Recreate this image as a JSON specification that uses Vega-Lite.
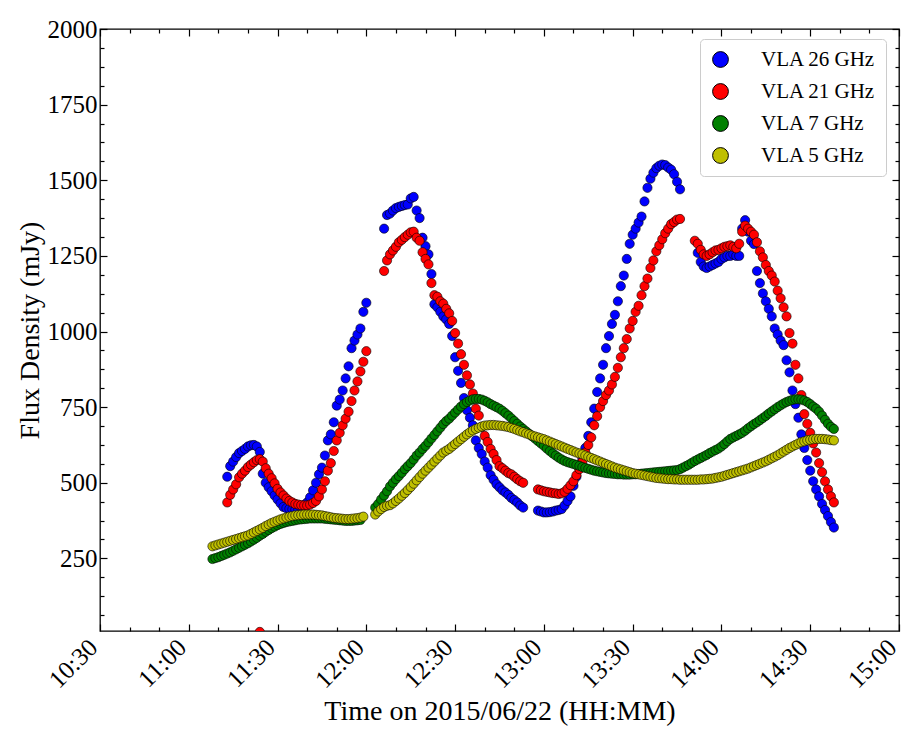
{
"$schema":"https://vega.github.io/schema/vega-lite/v6.json",
"width":799,"height":602,
"autosize":{"type":"none"},
"padding":{"left":100,"top":29,"right":3,"bottom":105},
"background":"white",
"config":{
 "view":{"stroke":"black","strokeWidth":1.3},
 "axis":{"grid":false,"domain":false,"tickColor":"black","tickWidth":1.2,"labelColor":"black","titleColor":"black","labelFont":"Liberation Serif","titleFont":"Liberation Serif","titleFontWeight":"normal","labelFlush":false,"labelOverlap":false}
},
"data":{"format":{"parse":{"t":"date:'%H:%M'"}},"values":[
{"s":"VLA 26 GHz","t":"11:13","v":520},{"s":"VLA 26 GHz","t":"11:14","v":555},{"s":"VLA 26 GHz","t":"11:15","v":570},{"s":"VLA 26 GHz","t":"11:16","v":585},{"s":"VLA 26 GHz","t":"11:17","v":598},{"s":"VLA 26 GHz","t":"11:18","v":605},{"s":"VLA 26 GHz","t":"11:19","v":612},{"s":"VLA 26 GHz","t":"11:20","v":620},{"s":"VLA 26 GHz","t":"11:21","v":624},{"s":"VLA 26 GHz","t":"11:22","v":625},{"s":"VLA 26 GHz","t":"11:23","v":620},{"s":"VLA 26 GHz","t":"11:24","v":602},{"s":"VLA 26 GHz","t":"11:25","v":530},{"s":"VLA 26 GHz","t":"11:26","v":500},{"s":"VLA 26 GHz","t":"11:27","v":485},{"s":"VLA 26 GHz","t":"11:28","v":472},{"s":"VLA 26 GHz","t":"11:29","v":458},{"s":"VLA 26 GHz","t":"11:30","v":445},{"s":"VLA 26 GHz","t":"11:31","v":432},{"s":"VLA 26 GHz","t":"11:32","v":420},{"s":"VLA 26 GHz","t":"11:33","v":416},{"s":"VLA 26 GHz","t":"11:34","v":414},{"s":"VLA 26 GHz","t":"11:35","v":412},{"s":"VLA 26 GHz","t":"11:36","v":411},{"s":"VLA 26 GHz","t":"11:37","v":412},{"s":"VLA 26 GHz","t":"11:38","v":418},{"s":"VLA 26 GHz","t":"11:39","v":426},{"s":"VLA 26 GHz","t":"11:40","v":435},{"s":"VLA 26 GHz","t":"11:41","v":452},{"s":"VLA 26 GHz","t":"11:42","v":475},{"s":"VLA 26 GHz","t":"11:43","v":500},{"s":"VLA 26 GHz","t":"11:44","v":528},{"s":"VLA 26 GHz","t":"11:45","v":550},{"s":"VLA 26 GHz","t":"11:46","v":590},{"s":"VLA 26 GHz","t":"11:47","v":640},{"s":"VLA 26 GHz","t":"11:48","v":660},{"s":"VLA 26 GHz","t":"11:49","v":700},{"s":"VLA 26 GHz","t":"11:50","v":755},{"s":"VLA 26 GHz","t":"11:51","v":775},{"s":"VLA 26 GHz","t":"11:52","v":805},{"s":"VLA 26 GHz","t":"11:53","v":845},{"s":"VLA 26 GHz","t":"11:54","v":885},{"s":"VLA 26 GHz","t":"11:55","v":945},{"s":"VLA 26 GHz","t":"11:56","v":970},{"s":"VLA 26 GHz","t":"11:57","v":990},{"s":"VLA 26 GHz","t":"11:58","v":1010},{"s":"VLA 26 GHz","t":"11:59","v":1065},{"s":"VLA 26 GHz","t":"12:00","v":1095},
{"s":"VLA 26 GHz","t":"12:06","v":1340},{"s":"VLA 26 GHz","t":"12:07","v":1385},{"s":"VLA 26 GHz","t":"12:08","v":1390},{"s":"VLA 26 GHz","t":"12:09","v":1400},{"s":"VLA 26 GHz","t":"12:10","v":1408},{"s":"VLA 26 GHz","t":"12:11","v":1412},{"s":"VLA 26 GHz","t":"12:12","v":1415},{"s":"VLA 26 GHz","t":"12:13","v":1418},{"s":"VLA 26 GHz","t":"12:14","v":1420},{"s":"VLA 26 GHz","t":"12:15","v":1440},{"s":"VLA 26 GHz","t":"12:16","v":1445},{"s":"VLA 26 GHz","t":"12:17","v":1400},{"s":"VLA 26 GHz","t":"12:18","v":1375},{"s":"VLA 26 GHz","t":"12:19","v":1310},{"s":"VLA 26 GHz","t":"12:20","v":1282},{"s":"VLA 26 GHz","t":"12:21","v":1255},{"s":"VLA 26 GHz","t":"12:22","v":1190},{"s":"VLA 26 GHz","t":"12:23","v":1090},{"s":"VLA 26 GHz","t":"12:24","v":1080},{"s":"VLA 26 GHz","t":"12:25","v":1065},{"s":"VLA 26 GHz","t":"12:26","v":1050},{"s":"VLA 26 GHz","t":"12:27","v":1040},{"s":"VLA 26 GHz","t":"12:28","v":1025},{"s":"VLA 26 GHz","t":"12:29","v":985},{"s":"VLA 26 GHz","t":"12:30","v":915},{"s":"VLA 26 GHz","t":"12:31","v":870},{"s":"VLA 26 GHz","t":"12:32","v":830},{"s":"VLA 26 GHz","t":"12:33","v":780},{"s":"VLA 26 GHz","t":"12:34","v":740},{"s":"VLA 26 GHz","t":"12:35","v":715},{"s":"VLA 26 GHz","t":"12:36","v":690},{"s":"VLA 26 GHz","t":"12:37","v":640},{"s":"VLA 26 GHz","t":"12:38","v":615},{"s":"VLA 26 GHz","t":"12:39","v":595},{"s":"VLA 26 GHz","t":"12:40","v":570},{"s":"VLA 26 GHz","t":"12:41","v":550},{"s":"VLA 26 GHz","t":"12:42","v":525},{"s":"VLA 26 GHz","t":"12:43","v":510},{"s":"VLA 26 GHz","t":"12:44","v":495},{"s":"VLA 26 GHz","t":"12:45","v":485},{"s":"VLA 26 GHz","t":"12:46","v":475},{"s":"VLA 26 GHz","t":"12:47","v":468},{"s":"VLA 26 GHz","t":"12:48","v":460},{"s":"VLA 26 GHz","t":"12:49","v":450},{"s":"VLA 26 GHz","t":"12:50","v":443},{"s":"VLA 26 GHz","t":"12:51","v":435},{"s":"VLA 26 GHz","t":"12:52","v":425},{"s":"VLA 26 GHz","t":"12:53","v":418},
{"s":"VLA 26 GHz","t":"12:58","v":408},{"s":"VLA 26 GHz","t":"12:59","v":405},{"s":"VLA 26 GHz","t":"13:00","v":402},{"s":"VLA 26 GHz","t":"13:01","v":402},{"s":"VLA 26 GHz","t":"13:02","v":403},{"s":"VLA 26 GHz","t":"13:03","v":405},{"s":"VLA 26 GHz","t":"13:04","v":408},{"s":"VLA 26 GHz","t":"13:05","v":410},{"s":"VLA 26 GHz","t":"13:06","v":413},{"s":"VLA 26 GHz","t":"13:07","v":425},{"s":"VLA 26 GHz","t":"13:08","v":440},{"s":"VLA 26 GHz","t":"13:09","v":455},{"s":"VLA 26 GHz","t":"13:10","v":490},{"s":"VLA 26 GHz","t":"13:11","v":520},{"s":"VLA 26 GHz","t":"13:12","v":548},{"s":"VLA 26 GHz","t":"13:13","v":580},{"s":"VLA 26 GHz","t":"13:14","v":615},{"s":"VLA 26 GHz","t":"13:15","v":655},{"s":"VLA 26 GHz","t":"13:16","v":700},{"s":"VLA 26 GHz","t":"13:17","v":745},{"s":"VLA 26 GHz","t":"13:18","v":800},{"s":"VLA 26 GHz","t":"13:19","v":845},{"s":"VLA 26 GHz","t":"13:20","v":890},{"s":"VLA 26 GHz","t":"13:21","v":945},{"s":"VLA 26 GHz","t":"13:22","v":985},{"s":"VLA 26 GHz","t":"13:23","v":1025},{"s":"VLA 26 GHz","t":"13:24","v":1055},{"s":"VLA 26 GHz","t":"13:25","v":1100},{"s":"VLA 26 GHz","t":"13:26","v":1150},{"s":"VLA 26 GHz","t":"13:27","v":1185},{"s":"VLA 26 GHz","t":"13:28","v":1240},{"s":"VLA 26 GHz","t":"13:29","v":1290},{"s":"VLA 26 GHz","t":"13:30","v":1320},{"s":"VLA 26 GHz","t":"13:31","v":1340},{"s":"VLA 26 GHz","t":"13:32","v":1360},{"s":"VLA 26 GHz","t":"13:33","v":1380},{"s":"VLA 26 GHz","t":"13:34","v":1430},{"s":"VLA 26 GHz","t":"13:35","v":1475},{"s":"VLA 26 GHz","t":"13:36","v":1505},{"s":"VLA 26 GHz","t":"13:37","v":1525},{"s":"VLA 26 GHz","t":"13:38","v":1540},{"s":"VLA 26 GHz","t":"13:39","v":1548},{"s":"VLA 26 GHz","t":"13:40","v":1552},{"s":"VLA 26 GHz","t":"13:41","v":1550},{"s":"VLA 26 GHz","t":"13:42","v":1542},{"s":"VLA 26 GHz","t":"13:43","v":1535},{"s":"VLA 26 GHz","t":"13:44","v":1520},{"s":"VLA 26 GHz","t":"13:45","v":1495},{"s":"VLA 26 GHz","t":"13:46","v":1470},
{"s":"VLA 26 GHz","t":"13:52","v":1260},{"s":"VLA 26 GHz","t":"13:53","v":1230},{"s":"VLA 26 GHz","t":"13:54","v":1215},{"s":"VLA 26 GHz","t":"13:55","v":1210},{"s":"VLA 26 GHz","t":"13:56","v":1215},{"s":"VLA 26 GHz","t":"13:57","v":1220},{"s":"VLA 26 GHz","t":"13:58","v":1225},{"s":"VLA 26 GHz","t":"13:59","v":1230},{"s":"VLA 26 GHz","t":"14:00","v":1240},{"s":"VLA 26 GHz","t":"14:01","v":1245},{"s":"VLA 26 GHz","t":"14:02","v":1250},{"s":"VLA 26 GHz","t":"14:03","v":1250},{"s":"VLA 26 GHz","t":"14:04","v":1255},{"s":"VLA 26 GHz","t":"14:05","v":1250},{"s":"VLA 26 GHz","t":"14:06","v":1250},{"s":"VLA 26 GHz","t":"14:07","v":1340},{"s":"VLA 26 GHz","t":"14:08","v":1368},{"s":"VLA 26 GHz","t":"14:09","v":1330},{"s":"VLA 26 GHz","t":"14:10","v":1300},{"s":"VLA 26 GHz","t":"14:11","v":1289},{"s":"VLA 26 GHz","t":"14:12","v":1200},{"s":"VLA 26 GHz","t":"14:13","v":1160},{"s":"VLA 26 GHz","t":"14:14","v":1126},{"s":"VLA 26 GHz","t":"14:15","v":1100},{"s":"VLA 26 GHz","t":"14:16","v":1075},{"s":"VLA 26 GHz","t":"14:17","v":1050},{"s":"VLA 26 GHz","t":"14:18","v":1010},{"s":"VLA 26 GHz","t":"14:19","v":990},{"s":"VLA 26 GHz","t":"14:20","v":970},{"s":"VLA 26 GHz","t":"14:21","v":955},{"s":"VLA 26 GHz","t":"14:22","v":905},{"s":"VLA 26 GHz","t":"14:23","v":865},{"s":"VLA 26 GHz","t":"14:24","v":805},{"s":"VLA 26 GHz","t":"14:25","v":760},{"s":"VLA 26 GHz","t":"14:26","v":715},{"s":"VLA 26 GHz","t":"14:27","v":660},{"s":"VLA 26 GHz","t":"14:28","v":615},{"s":"VLA 26 GHz","t":"14:29","v":575},{"s":"VLA 26 GHz","t":"14:30","v":540},{"s":"VLA 26 GHz","t":"14:31","v":505},{"s":"VLA 26 GHz","t":"14:32","v":478},{"s":"VLA 26 GHz","t":"14:33","v":455},{"s":"VLA 26 GHz","t":"14:34","v":430},{"s":"VLA 26 GHz","t":"14:35","v":410},{"s":"VLA 26 GHz","t":"14:36","v":390},{"s":"VLA 26 GHz","t":"14:37","v":370},{"s":"VLA 26 GHz","t":"14:38","v":352},
{"s":"VLA 21 GHz","t":"11:13","v":435},{"s":"VLA 21 GHz","t":"11:14","v":460},{"s":"VLA 21 GHz","t":"11:15","v":478},{"s":"VLA 21 GHz","t":"11:16","v":495},{"s":"VLA 21 GHz","t":"11:17","v":518},{"s":"VLA 21 GHz","t":"11:18","v":530},{"s":"VLA 21 GHz","t":"11:19","v":540},{"s":"VLA 21 GHz","t":"11:20","v":552},{"s":"VLA 21 GHz","t":"11:21","v":560},{"s":"VLA 21 GHz","t":"11:22","v":568},{"s":"VLA 21 GHz","t":"11:23","v":575},{"s":"VLA 21 GHz","t":"11:24","v":578},{"s":"VLA 21 GHz","t":"11:25","v":570},{"s":"VLA 21 GHz","t":"11:26","v":548},{"s":"VLA 21 GHz","t":"11:27","v":530},{"s":"VLA 21 GHz","t":"11:28","v":515},{"s":"VLA 21 GHz","t":"11:29","v":498},{"s":"VLA 21 GHz","t":"11:30","v":480},{"s":"VLA 21 GHz","t":"11:31","v":468},{"s":"VLA 21 GHz","t":"11:32","v":458},{"s":"VLA 21 GHz","t":"11:33","v":448},{"s":"VLA 21 GHz","t":"11:34","v":440},{"s":"VLA 21 GHz","t":"11:35","v":435},{"s":"VLA 21 GHz","t":"11:36","v":430},{"s":"VLA 21 GHz","t":"11:37","v":428},{"s":"VLA 21 GHz","t":"11:38","v":426},{"s":"VLA 21 GHz","t":"11:39","v":425},{"s":"VLA 21 GHz","t":"11:40","v":425},{"s":"VLA 21 GHz","t":"11:41","v":428},{"s":"VLA 21 GHz","t":"11:42","v":433},{"s":"VLA 21 GHz","t":"11:43","v":440},{"s":"VLA 21 GHz","t":"11:44","v":455},{"s":"VLA 21 GHz","t":"11:45","v":478},{"s":"VLA 21 GHz","t":"11:46","v":505},{"s":"VLA 21 GHz","t":"11:47","v":540},{"s":"VLA 21 GHz","t":"11:48","v":565},{"s":"VLA 21 GHz","t":"11:49","v":605},{"s":"VLA 21 GHz","t":"11:50","v":640},{"s":"VLA 21 GHz","t":"11:51","v":665},{"s":"VLA 21 GHz","t":"11:52","v":690},{"s":"VLA 21 GHz","t":"11:53","v":712},{"s":"VLA 21 GHz","t":"11:54","v":735},{"s":"VLA 21 GHz","t":"11:55","v":770},{"s":"VLA 21 GHz","t":"11:56","v":805},{"s":"VLA 21 GHz","t":"11:57","v":835},{"s":"VLA 21 GHz","t":"11:58","v":868},{"s":"VLA 21 GHz","t":"11:59","v":900},{"s":"VLA 21 GHz","t":"12:00","v":935},
{"s":"VLA 21 GHz","t":"11:24","v":7},
{"s":"VLA 21 GHz","t":"12:06","v":1200},{"s":"VLA 21 GHz","t":"12:07","v":1235},{"s":"VLA 21 GHz","t":"12:08","v":1255},{"s":"VLA 21 GHz","t":"12:09","v":1268},{"s":"VLA 21 GHz","t":"12:10","v":1280},{"s":"VLA 21 GHz","t":"12:11","v":1295},{"s":"VLA 21 GHz","t":"12:12","v":1303},{"s":"VLA 21 GHz","t":"12:13","v":1312},{"s":"VLA 21 GHz","t":"12:14","v":1320},{"s":"VLA 21 GHz","t":"12:15","v":1328},{"s":"VLA 21 GHz","t":"12:16","v":1330},{"s":"VLA 21 GHz","t":"12:17","v":1310},{"s":"VLA 21 GHz","t":"12:18","v":1300},{"s":"VLA 21 GHz","t":"12:19","v":1262},{"s":"VLA 21 GHz","t":"12:20","v":1240},{"s":"VLA 21 GHz","t":"12:21","v":1222},{"s":"VLA 21 GHz","t":"12:22","v":1160},{"s":"VLA 21 GHz","t":"12:23","v":1120},{"s":"VLA 21 GHz","t":"12:24","v":1115},{"s":"VLA 21 GHz","t":"12:25","v":1100},{"s":"VLA 21 GHz","t":"12:26","v":1092},{"s":"VLA 21 GHz","t":"12:27","v":1075},{"s":"VLA 21 GHz","t":"12:28","v":1060},{"s":"VLA 21 GHz","t":"12:29","v":1035},{"s":"VLA 21 GHz","t":"12:30","v":995},{"s":"VLA 21 GHz","t":"12:31","v":960},{"s":"VLA 21 GHz","t":"12:32","v":925},{"s":"VLA 21 GHz","t":"12:33","v":890},{"s":"VLA 21 GHz","t":"12:34","v":855},{"s":"VLA 21 GHz","t":"12:35","v":825},{"s":"VLA 21 GHz","t":"12:36","v":795},{"s":"VLA 21 GHz","t":"12:37","v":745},{"s":"VLA 21 GHz","t":"12:38","v":722},{"s":"VLA 21 GHz","t":"12:39","v":685},{"s":"VLA 21 GHz","t":"12:40","v":655},{"s":"VLA 21 GHz","t":"12:41","v":635},{"s":"VLA 21 GHz","t":"12:42","v":612},{"s":"VLA 21 GHz","t":"12:43","v":595},{"s":"VLA 21 GHz","t":"12:44","v":575},{"s":"VLA 21 GHz","t":"12:45","v":555},{"s":"VLA 21 GHz","t":"12:46","v":548},{"s":"VLA 21 GHz","t":"12:47","v":540},{"s":"VLA 21 GHz","t":"12:48","v":532},{"s":"VLA 21 GHz","t":"12:49","v":528},{"s":"VLA 21 GHz","t":"12:50","v":520},{"s":"VLA 21 GHz","t":"12:51","v":512},{"s":"VLA 21 GHz","t":"12:52","v":505},{"s":"VLA 21 GHz","t":"12:53","v":500},
{"s":"VLA 21 GHz","t":"12:58","v":478},{"s":"VLA 21 GHz","t":"12:59","v":475},{"s":"VLA 21 GHz","t":"13:00","v":472},{"s":"VLA 21 GHz","t":"13:01","v":470},{"s":"VLA 21 GHz","t":"13:02","v":468},{"s":"VLA 21 GHz","t":"13:03","v":466},{"s":"VLA 21 GHz","t":"13:04","v":465},{"s":"VLA 21 GHz","t":"13:05","v":463},{"s":"VLA 21 GHz","t":"13:06","v":465},{"s":"VLA 21 GHz","t":"13:07","v":470},{"s":"VLA 21 GHz","t":"13:08","v":480},{"s":"VLA 21 GHz","t":"13:09","v":492},{"s":"VLA 21 GHz","t":"13:10","v":505},{"s":"VLA 21 GHz","t":"13:11","v":525},{"s":"VLA 21 GHz","t":"13:12","v":545},{"s":"VLA 21 GHz","t":"13:13","v":570},{"s":"VLA 21 GHz","t":"13:14","v":600},{"s":"VLA 21 GHz","t":"13:15","v":625},{"s":"VLA 21 GHz","t":"13:16","v":650},{"s":"VLA 21 GHz","t":"13:17","v":690},{"s":"VLA 21 GHz","t":"13:18","v":720},{"s":"VLA 21 GHz","t":"13:19","v":750},{"s":"VLA 21 GHz","t":"13:20","v":770},{"s":"VLA 21 GHz","t":"13:21","v":790},{"s":"VLA 21 GHz","t":"13:22","v":805},{"s":"VLA 21 GHz","t":"13:23","v":825},{"s":"VLA 21 GHz","t":"13:24","v":850},{"s":"VLA 21 GHz","t":"13:25","v":880},{"s":"VLA 21 GHz","t":"13:26","v":915},{"s":"VLA 21 GHz","t":"13:27","v":945},{"s":"VLA 21 GHz","t":"13:28","v":975},{"s":"VLA 21 GHz","t":"13:29","v":1010},{"s":"VLA 21 GHz","t":"13:30","v":1035},{"s":"VLA 21 GHz","t":"13:31","v":1065},{"s":"VLA 21 GHz","t":"13:32","v":1085},{"s":"VLA 21 GHz","t":"13:33","v":1120},{"s":"VLA 21 GHz","t":"13:34","v":1150},{"s":"VLA 21 GHz","t":"13:35","v":1175},{"s":"VLA 21 GHz","t":"13:36","v":1210},{"s":"VLA 21 GHz","t":"13:37","v":1235},{"s":"VLA 21 GHz","t":"13:38","v":1265},{"s":"VLA 21 GHz","t":"13:39","v":1285},{"s":"VLA 21 GHz","t":"13:40","v":1305},{"s":"VLA 21 GHz","t":"13:41","v":1325},{"s":"VLA 21 GHz","t":"13:42","v":1340},{"s":"VLA 21 GHz","t":"13:43","v":1355},{"s":"VLA 21 GHz","t":"13:44","v":1362},{"s":"VLA 21 GHz","t":"13:45","v":1370},{"s":"VLA 21 GHz","t":"13:46","v":1372},
{"s":"VLA 21 GHz","t":"13:51","v":1300},{"s":"VLA 21 GHz","t":"13:52","v":1290},{"s":"VLA 21 GHz","t":"13:53","v":1270},{"s":"VLA 21 GHz","t":"13:54","v":1255},{"s":"VLA 21 GHz","t":"13:55","v":1250},{"s":"VLA 21 GHz","t":"13:56","v":1255},{"s":"VLA 21 GHz","t":"13:57","v":1262},{"s":"VLA 21 GHz","t":"13:58","v":1268},{"s":"VLA 21 GHz","t":"13:59","v":1270},{"s":"VLA 21 GHz","t":"14:00","v":1275},{"s":"VLA 21 GHz","t":"14:01","v":1280},{"s":"VLA 21 GHz","t":"14:02","v":1282},{"s":"VLA 21 GHz","t":"14:03","v":1285},{"s":"VLA 21 GHz","t":"14:04","v":1280},{"s":"VLA 21 GHz","t":"14:05","v":1275},{"s":"VLA 21 GHz","t":"14:06","v":1290},{"s":"VLA 21 GHz","t":"14:07","v":1330},{"s":"VLA 21 GHz","t":"14:08","v":1350},{"s":"VLA 21 GHz","t":"14:09","v":1340},{"s":"VLA 21 GHz","t":"14:10","v":1330},{"s":"VLA 21 GHz","t":"14:11","v":1320},{"s":"VLA 21 GHz","t":"14:12","v":1295},{"s":"VLA 21 GHz","t":"14:13","v":1265},{"s":"VLA 21 GHz","t":"14:14","v":1245},{"s":"VLA 21 GHz","t":"14:15","v":1220},{"s":"VLA 21 GHz","t":"14:16","v":1200},{"s":"VLA 21 GHz","t":"14:17","v":1185},{"s":"VLA 21 GHz","t":"14:18","v":1165},{"s":"VLA 21 GHz","t":"14:19","v":1135},{"s":"VLA 21 GHz","t":"14:20","v":1110},{"s":"VLA 21 GHz","t":"14:21","v":1080},{"s":"VLA 21 GHz","t":"14:22","v":1050},{"s":"VLA 21 GHz","t":"14:23","v":995},{"s":"VLA 21 GHz","t":"14:24","v":960},{"s":"VLA 21 GHz","t":"14:25","v":890},{"s":"VLA 21 GHz","t":"14:26","v":845},{"s":"VLA 21 GHz","t":"14:27","v":790},{"s":"VLA 21 GHz","t":"14:28","v":727},{"s":"VLA 21 GHz","t":"14:29","v":695},{"s":"VLA 21 GHz","t":"14:30","v":665},{"s":"VLA 21 GHz","t":"14:31","v":630},{"s":"VLA 21 GHz","t":"14:32","v":600},{"s":"VLA 21 GHz","t":"14:33","v":565},{"s":"VLA 21 GHz","t":"14:34","v":535},{"s":"VLA 21 GHz","t":"14:35","v":505},{"s":"VLA 21 GHz","t":"14:36","v":478},{"s":"VLA 21 GHz","t":"14:37","v":455},{"s":"VLA 21 GHz","t":"14:38","v":435},
{"s":"VLA 7 GHz","t":"11:08","v":248},{"s":"VLA 7 GHz","t":"11:09","v":251},{"s":"VLA 7 GHz","t":"11:10","v":254},{"s":"VLA 7 GHz","t":"11:11","v":258},{"s":"VLA 7 GHz","t":"11:12","v":262},{"s":"VLA 7 GHz","t":"11:13","v":266},{"s":"VLA 7 GHz","t":"11:14","v":270},{"s":"VLA 7 GHz","t":"11:15","v":275},{"s":"VLA 7 GHz","t":"11:16","v":280},{"s":"VLA 7 GHz","t":"11:17","v":285},{"s":"VLA 7 GHz","t":"11:18","v":290},{"s":"VLA 7 GHz","t":"11:19","v":295},{"s":"VLA 7 GHz","t":"11:20","v":300},{"s":"VLA 7 GHz","t":"11:21","v":306},{"s":"VLA 7 GHz","t":"11:22","v":312},{"s":"VLA 7 GHz","t":"11:23","v":318},{"s":"VLA 7 GHz","t":"11:24","v":325},{"s":"VLA 7 GHz","t":"11:25","v":331},{"s":"VLA 7 GHz","t":"11:26","v":338},{"s":"VLA 7 GHz","t":"11:27","v":344},{"s":"VLA 7 GHz","t":"11:28","v":350},{"s":"VLA 7 GHz","t":"11:29","v":355},{"s":"VLA 7 GHz","t":"11:30","v":360},{"s":"VLA 7 GHz","t":"11:31","v":364},{"s":"VLA 7 GHz","t":"11:32","v":367},{"s":"VLA 7 GHz","t":"11:33","v":370},{"s":"VLA 7 GHz","t":"11:34","v":372},{"s":"VLA 7 GHz","t":"11:35","v":374},{"s":"VLA 7 GHz","t":"11:36","v":376},{"s":"VLA 7 GHz","t":"11:37","v":378},{"s":"VLA 7 GHz","t":"11:38","v":379},{"s":"VLA 7 GHz","t":"11:39","v":380},{"s":"VLA 7 GHz","t":"11:40","v":381},{"s":"VLA 7 GHz","t":"11:41","v":382},{"s":"VLA 7 GHz","t":"11:42","v":382},{"s":"VLA 7 GHz","t":"11:43","v":382},{"s":"VLA 7 GHz","t":"11:44","v":382},{"s":"VLA 7 GHz","t":"11:45","v":382},{"s":"VLA 7 GHz","t":"11:46","v":381},{"s":"VLA 7 GHz","t":"11:47","v":380},{"s":"VLA 7 GHz","t":"11:48","v":379},{"s":"VLA 7 GHz","t":"11:49","v":378},{"s":"VLA 7 GHz","t":"11:50","v":377},{"s":"VLA 7 GHz","t":"11:51","v":376},{"s":"VLA 7 GHz","t":"11:52","v":375},{"s":"VLA 7 GHz","t":"11:53","v":374},{"s":"VLA 7 GHz","t":"11:54","v":374},{"s":"VLA 7 GHz","t":"11:55","v":374},{"s":"VLA 7 GHz","t":"11:56","v":375},{"s":"VLA 7 GHz","t":"11:57","v":376},{"s":"VLA 7 GHz","t":"11:58","v":377},
{"s":"VLA 7 GHz","t":"12:03","v":418},{"s":"VLA 7 GHz","t":"12:04","v":430},{"s":"VLA 7 GHz","t":"12:05","v":445},{"s":"VLA 7 GHz","t":"12:06","v":458},{"s":"VLA 7 GHz","t":"12:07","v":472},{"s":"VLA 7 GHz","t":"12:08","v":488},{"s":"VLA 7 GHz","t":"12:09","v":500},{"s":"VLA 7 GHz","t":"12:10","v":512},{"s":"VLA 7 GHz","t":"12:11","v":522},{"s":"VLA 7 GHz","t":"12:12","v":533},{"s":"VLA 7 GHz","t":"12:13","v":545},{"s":"VLA 7 GHz","t":"12:14","v":555},{"s":"VLA 7 GHz","t":"12:15","v":565},{"s":"VLA 7 GHz","t":"12:16","v":577},{"s":"VLA 7 GHz","t":"12:17","v":590},{"s":"VLA 7 GHz","t":"12:18","v":600},{"s":"VLA 7 GHz","t":"12:19","v":612},{"s":"VLA 7 GHz","t":"12:20","v":622},{"s":"VLA 7 GHz","t":"12:21","v":634},{"s":"VLA 7 GHz","t":"12:22","v":646},{"s":"VLA 7 GHz","t":"12:23","v":658},{"s":"VLA 7 GHz","t":"12:24","v":670},{"s":"VLA 7 GHz","t":"12:25","v":682},{"s":"VLA 7 GHz","t":"12:26","v":694},{"s":"VLA 7 GHz","t":"12:27","v":704},{"s":"VLA 7 GHz","t":"12:28","v":712},{"s":"VLA 7 GHz","t":"12:29","v":722},{"s":"VLA 7 GHz","t":"12:30","v":732},{"s":"VLA 7 GHz","t":"12:31","v":742},{"s":"VLA 7 GHz","t":"12:32","v":752},{"s":"VLA 7 GHz","t":"12:33","v":760},{"s":"VLA 7 GHz","t":"12:34","v":767},{"s":"VLA 7 GHz","t":"12:35","v":772},{"s":"VLA 7 GHz","t":"12:36","v":776},{"s":"VLA 7 GHz","t":"12:37","v":777},{"s":"VLA 7 GHz","t":"12:38","v":777},{"s":"VLA 7 GHz","t":"12:39","v":775},{"s":"VLA 7 GHz","t":"12:40","v":771},{"s":"VLA 7 GHz","t":"12:41","v":766},{"s":"VLA 7 GHz","t":"12:42","v":760},{"s":"VLA 7 GHz","t":"12:43","v":755},{"s":"VLA 7 GHz","t":"12:44","v":750},{"s":"VLA 7 GHz","t":"12:45","v":745},{"s":"VLA 7 GHz","t":"12:46","v":738},{"s":"VLA 7 GHz","t":"12:47","v":730},{"s":"VLA 7 GHz","t":"12:48","v":722},{"s":"VLA 7 GHz","t":"12:49","v":713},{"s":"VLA 7 GHz","t":"12:50","v":704},{"s":"VLA 7 GHz","t":"12:51","v":695},{"s":"VLA 7 GHz","t":"12:52","v":686},{"s":"VLA 7 GHz","t":"12:53","v":678},{"s":"VLA 7 GHz","t":"12:54","v":670},{"s":"VLA 7 GHz","t":"12:55","v":662},{"s":"VLA 7 GHz","t":"12:56","v":654},{"s":"VLA 7 GHz","t":"12:57","v":646},{"s":"VLA 7 GHz","t":"12:58","v":638},{"s":"VLA 7 GHz","t":"12:59","v":630},{"s":"VLA 7 GHz","t":"13:00","v":622},{"s":"VLA 7 GHz","t":"13:01","v":613},{"s":"VLA 7 GHz","t":"13:02","v":605},{"s":"VLA 7 GHz","t":"13:03","v":597},{"s":"VLA 7 GHz","t":"13:04","v":590},{"s":"VLA 7 GHz","t":"13:05","v":583},{"s":"VLA 7 GHz","t":"13:06","v":577},{"s":"VLA 7 GHz","t":"13:07","v":572},{"s":"VLA 7 GHz","t":"13:08","v":568},{"s":"VLA 7 GHz","t":"13:09","v":565},{"s":"VLA 7 GHz","t":"13:10","v":562},{"s":"VLA 7 GHz","t":"13:11","v":559},{"s":"VLA 7 GHz","t":"13:12","v":556},{"s":"VLA 7 GHz","t":"13:13","v":552},{"s":"VLA 7 GHz","t":"13:14","v":549},{"s":"VLA 7 GHz","t":"13:15","v":546},{"s":"VLA 7 GHz","t":"13:16","v":543},{"s":"VLA 7 GHz","t":"13:17","v":540},{"s":"VLA 7 GHz","t":"13:18","v":538},{"s":"VLA 7 GHz","t":"13:19","v":536},{"s":"VLA 7 GHz","t":"13:20","v":534},{"s":"VLA 7 GHz","t":"13:21","v":532},{"s":"VLA 7 GHz","t":"13:22","v":531},{"s":"VLA 7 GHz","t":"13:23","v":530},{"s":"VLA 7 GHz","t":"13:24","v":529},{"s":"VLA 7 GHz","t":"13:25","v":528},{"s":"VLA 7 GHz","t":"13:26","v":528},{"s":"VLA 7 GHz","t":"13:27","v":527},{"s":"VLA 7 GHz","t":"13:28","v":527},{"s":"VLA 7 GHz","t":"13:29","v":527},{"s":"VLA 7 GHz","t":"13:30","v":528},{"s":"VLA 7 GHz","t":"13:31","v":528},{"s":"VLA 7 GHz","t":"13:32","v":529},{"s":"VLA 7 GHz","t":"13:33","v":530},{"s":"VLA 7 GHz","t":"13:34","v":531},{"s":"VLA 7 GHz","t":"13:35","v":532},{"s":"VLA 7 GHz","t":"13:36","v":533},{"s":"VLA 7 GHz","t":"13:37","v":534},{"s":"VLA 7 GHz","t":"13:38","v":535},{"s":"VLA 7 GHz","t":"13:39","v":536},{"s":"VLA 7 GHz","t":"13:40","v":537},{"s":"VLA 7 GHz","t":"13:41","v":538},{"s":"VLA 7 GHz","t":"13:42","v":539},{"s":"VLA 7 GHz","t":"13:43","v":540},{"s":"VLA 7 GHz","t":"13:44","v":541},{"s":"VLA 7 GHz","t":"13:45","v":542},{"s":"VLA 7 GHz","t":"13:46","v":545},{"s":"VLA 7 GHz","t":"13:47","v":550},{"s":"VLA 7 GHz","t":"13:48","v":555},{"s":"VLA 7 GHz","t":"13:49","v":560},{"s":"VLA 7 GHz","t":"13:50","v":566},{"s":"VLA 7 GHz","t":"13:51","v":572},{"s":"VLA 7 GHz","t":"13:52","v":577},{"s":"VLA 7 GHz","t":"13:53","v":582},{"s":"VLA 7 GHz","t":"13:54","v":587},{"s":"VLA 7 GHz","t":"13:55","v":592},{"s":"VLA 7 GHz","t":"13:56","v":598},{"s":"VLA 7 GHz","t":"13:57","v":603},{"s":"VLA 7 GHz","t":"13:58","v":608},{"s":"VLA 7 GHz","t":"13:59","v":613},{"s":"VLA 7 GHz","t":"14:00","v":620},{"s":"VLA 7 GHz","t":"14:01","v":628},{"s":"VLA 7 GHz","t":"14:02","v":637},{"s":"VLA 7 GHz","t":"14:03","v":645},{"s":"VLA 7 GHz","t":"14:04","v":650},{"s":"VLA 7 GHz","t":"14:05","v":655},{"s":"VLA 7 GHz","t":"14:06","v":660},{"s":"VLA 7 GHz","t":"14:07","v":665},{"s":"VLA 7 GHz","t":"14:08","v":672},{"s":"VLA 7 GHz","t":"14:09","v":680},{"s":"VLA 7 GHz","t":"14:10","v":687},{"s":"VLA 7 GHz","t":"14:11","v":694},{"s":"VLA 7 GHz","t":"14:12","v":700},{"s":"VLA 7 GHz","t":"14:13","v":707},{"s":"VLA 7 GHz","t":"14:14","v":714},{"s":"VLA 7 GHz","t":"14:15","v":721},{"s":"VLA 7 GHz","t":"14:16","v":729},{"s":"VLA 7 GHz","t":"14:17","v":736},{"s":"VLA 7 GHz","t":"14:18","v":743},{"s":"VLA 7 GHz","t":"14:19","v":750},{"s":"VLA 7 GHz","t":"14:20","v":756},{"s":"VLA 7 GHz","t":"14:21","v":762},{"s":"VLA 7 GHz","t":"14:22","v":767},{"s":"VLA 7 GHz","t":"14:23","v":771},{"s":"VLA 7 GHz","t":"14:24","v":774},{"s":"VLA 7 GHz","t":"14:25","v":776},{"s":"VLA 7 GHz","t":"14:26","v":776},{"s":"VLA 7 GHz","t":"14:27","v":775},{"s":"VLA 7 GHz","t":"14:28","v":772},{"s":"VLA 7 GHz","t":"14:29","v":767},{"s":"VLA 7 GHz","t":"14:30","v":760},{"s":"VLA 7 GHz","t":"14:31","v":752},{"s":"VLA 7 GHz","t":"14:32","v":745},{"s":"VLA 7 GHz","t":"14:33","v":735},{"s":"VLA 7 GHz","t":"14:34","v":722},{"s":"VLA 7 GHz","t":"14:35","v":708},{"s":"VLA 7 GHz","t":"14:36","v":695},{"s":"VLA 7 GHz","t":"14:37","v":685},{"s":"VLA 7 GHz","t":"14:38","v":678},
{"s":"VLA 5 GHz","t":"11:08","v":290},{"s":"VLA 5 GHz","t":"11:09","v":293},{"s":"VLA 5 GHz","t":"11:10","v":296},{"s":"VLA 5 GHz","t":"11:11","v":299},{"s":"VLA 5 GHz","t":"11:12","v":302},{"s":"VLA 5 GHz","t":"11:13","v":305},{"s":"VLA 5 GHz","t":"11:14","v":308},{"s":"VLA 5 GHz","t":"11:15","v":311},{"s":"VLA 5 GHz","t":"11:16","v":314},{"s":"VLA 5 GHz","t":"11:17","v":317},{"s":"VLA 5 GHz","t":"11:18","v":320},{"s":"VLA 5 GHz","t":"11:19","v":323},{"s":"VLA 5 GHz","t":"11:20","v":326},{"s":"VLA 5 GHz","t":"11:21","v":331},{"s":"VLA 5 GHz","t":"11:22","v":336},{"s":"VLA 5 GHz","t":"11:23","v":341},{"s":"VLA 5 GHz","t":"11:24","v":346},{"s":"VLA 5 GHz","t":"11:25","v":351},{"s":"VLA 5 GHz","t":"11:26","v":357},{"s":"VLA 5 GHz","t":"11:27","v":362},{"s":"VLA 5 GHz","t":"11:28","v":367},{"s":"VLA 5 GHz","t":"11:29","v":371},{"s":"VLA 5 GHz","t":"11:30","v":375},{"s":"VLA 5 GHz","t":"11:31","v":379},{"s":"VLA 5 GHz","t":"11:32","v":382},{"s":"VLA 5 GHz","t":"11:33","v":385},{"s":"VLA 5 GHz","t":"11:34","v":388},{"s":"VLA 5 GHz","t":"11:35","v":390},{"s":"VLA 5 GHz","t":"11:36","v":392},{"s":"VLA 5 GHz","t":"11:37","v":393},{"s":"VLA 5 GHz","t":"11:38","v":394},{"s":"VLA 5 GHz","t":"11:39","v":395},{"s":"VLA 5 GHz","t":"11:40","v":395},{"s":"VLA 5 GHz","t":"11:41","v":395},{"s":"VLA 5 GHz","t":"11:42","v":395},{"s":"VLA 5 GHz","t":"11:43","v":394},{"s":"VLA 5 GHz","t":"11:44","v":393},{"s":"VLA 5 GHz","t":"11:45","v":392},{"s":"VLA 5 GHz","t":"11:46","v":390},{"s":"VLA 5 GHz","t":"11:47","v":388},{"s":"VLA 5 GHz","t":"11:48","v":386},{"s":"VLA 5 GHz","t":"11:49","v":384},{"s":"VLA 5 GHz","t":"11:50","v":383},{"s":"VLA 5 GHz","t":"11:51","v":382},{"s":"VLA 5 GHz","t":"11:52","v":381},{"s":"VLA 5 GHz","t":"11:53","v":380},{"s":"VLA 5 GHz","t":"11:54","v":380},{"s":"VLA 5 GHz","t":"11:55","v":381},{"s":"VLA 5 GHz","t":"11:56","v":382},{"s":"VLA 5 GHz","t":"11:57","v":383},{"s":"VLA 5 GHz","t":"11:58","v":385},{"s":"VLA 5 GHz","t":"11:59","v":388},
{"s":"VLA 5 GHz","t":"12:03","v":395},{"s":"VLA 5 GHz","t":"12:04","v":405},{"s":"VLA 5 GHz","t":"12:05","v":413},{"s":"VLA 5 GHz","t":"12:06","v":420},{"s":"VLA 5 GHz","t":"12:07","v":424},{"s":"VLA 5 GHz","t":"12:08","v":426},{"s":"VLA 5 GHz","t":"12:09","v":432},{"s":"VLA 5 GHz","t":"12:10","v":440},{"s":"VLA 5 GHz","t":"12:11","v":448},{"s":"VLA 5 GHz","t":"12:12","v":457},{"s":"VLA 5 GHz","t":"12:13","v":466},{"s":"VLA 5 GHz","t":"12:14","v":476},{"s":"VLA 5 GHz","t":"12:15","v":486},{"s":"VLA 5 GHz","t":"12:16","v":497},{"s":"VLA 5 GHz","t":"12:17","v":508},{"s":"VLA 5 GHz","t":"12:18","v":519},{"s":"VLA 5 GHz","t":"12:19","v":530},{"s":"VLA 5 GHz","t":"12:20","v":540},{"s":"VLA 5 GHz","t":"12:21","v":550},{"s":"VLA 5 GHz","t":"12:22","v":560},{"s":"VLA 5 GHz","t":"12:23","v":570},{"s":"VLA 5 GHz","t":"12:24","v":580},{"s":"VLA 5 GHz","t":"12:25","v":590},{"s":"VLA 5 GHz","t":"12:26","v":600},{"s":"VLA 5 GHz","t":"12:27","v":606},{"s":"VLA 5 GHz","t":"12:28","v":612},{"s":"VLA 5 GHz","t":"12:29","v":620},{"s":"VLA 5 GHz","t":"12:30","v":628},{"s":"VLA 5 GHz","t":"12:31","v":636},{"s":"VLA 5 GHz","t":"12:32","v":644},{"s":"VLA 5 GHz","t":"12:33","v":652},{"s":"VLA 5 GHz","t":"12:34","v":660},{"s":"VLA 5 GHz","t":"12:35","v":667},{"s":"VLA 5 GHz","t":"12:36","v":673},{"s":"VLA 5 GHz","t":"12:37","v":678},{"s":"VLA 5 GHz","t":"12:38","v":682},{"s":"VLA 5 GHz","t":"12:39","v":686},{"s":"VLA 5 GHz","t":"12:40","v":689},{"s":"VLA 5 GHz","t":"12:41","v":690},{"s":"VLA 5 GHz","t":"12:42","v":691},{"s":"VLA 5 GHz","t":"12:43","v":691},{"s":"VLA 5 GHz","t":"12:44","v":690},{"s":"VLA 5 GHz","t":"12:45","v":689},{"s":"VLA 5 GHz","t":"12:46","v":688},{"s":"VLA 5 GHz","t":"12:47","v":686},{"s":"VLA 5 GHz","t":"12:48","v":684},{"s":"VLA 5 GHz","t":"12:49","v":681},{"s":"VLA 5 GHz","t":"12:50","v":678},{"s":"VLA 5 GHz","t":"12:51","v":674},{"s":"VLA 5 GHz","t":"12:52","v":670},{"s":"VLA 5 GHz","t":"12:53","v":667},{"s":"VLA 5 GHz","t":"12:54","v":663},{"s":"VLA 5 GHz","t":"12:55","v":660},{"s":"VLA 5 GHz","t":"12:56","v":656},{"s":"VLA 5 GHz","t":"12:57","v":653},{"s":"VLA 5 GHz","t":"12:58","v":650},{"s":"VLA 5 GHz","t":"12:59","v":647},{"s":"VLA 5 GHz","t":"13:00","v":644},{"s":"VLA 5 GHz","t":"13:01","v":640},{"s":"VLA 5 GHz","t":"13:02","v":636},{"s":"VLA 5 GHz","t":"13:03","v":632},{"s":"VLA 5 GHz","t":"13:04","v":628},{"s":"VLA 5 GHz","t":"13:05","v":624},{"s":"VLA 5 GHz","t":"13:06","v":620},{"s":"VLA 5 GHz","t":"13:07","v":616},{"s":"VLA 5 GHz","t":"13:08","v":612},{"s":"VLA 5 GHz","t":"13:09","v":608},{"s":"VLA 5 GHz","t":"13:10","v":604},{"s":"VLA 5 GHz","t":"13:11","v":600},{"s":"VLA 5 GHz","t":"13:12","v":597},{"s":"VLA 5 GHz","t":"13:13","v":594},{"s":"VLA 5 GHz","t":"13:14","v":590},{"s":"VLA 5 GHz","t":"13:15","v":586},{"s":"VLA 5 GHz","t":"13:16","v":582},{"s":"VLA 5 GHz","t":"13:17","v":578},{"s":"VLA 5 GHz","t":"13:18","v":574},{"s":"VLA 5 GHz","t":"13:19","v":570},{"s":"VLA 5 GHz","t":"13:20","v":566},{"s":"VLA 5 GHz","t":"13:21","v":562},{"s":"VLA 5 GHz","t":"13:22","v":558},{"s":"VLA 5 GHz","t":"13:23","v":554},{"s":"VLA 5 GHz","t":"13:24","v":550},{"s":"VLA 5 GHz","t":"13:25","v":547},{"s":"VLA 5 GHz","t":"13:26","v":544},{"s":"VLA 5 GHz","t":"13:27","v":541},{"s":"VLA 5 GHz","t":"13:28","v":538},{"s":"VLA 5 GHz","t":"13:29","v":535},{"s":"VLA 5 GHz","t":"13:30","v":532},{"s":"VLA 5 GHz","t":"13:31","v":530},{"s":"VLA 5 GHz","t":"13:32","v":528},{"s":"VLA 5 GHz","t":"13:33","v":526},{"s":"VLA 5 GHz","t":"13:34","v":524},{"s":"VLA 5 GHz","t":"13:35","v":522},{"s":"VLA 5 GHz","t":"13:36","v":520},{"s":"VLA 5 GHz","t":"13:37","v":518},{"s":"VLA 5 GHz","t":"13:38","v":516},{"s":"VLA 5 GHz","t":"13:39","v":515},{"s":"VLA 5 GHz","t":"13:40","v":514},{"s":"VLA 5 GHz","t":"13:41","v":513},{"s":"VLA 5 GHz","t":"13:42","v":512},{"s":"VLA 5 GHz","t":"13:43","v":512},{"s":"VLA 5 GHz","t":"13:44","v":511},{"s":"VLA 5 GHz","t":"13:45","v":511},{"s":"VLA 5 GHz","t":"13:46","v":510},{"s":"VLA 5 GHz","t":"13:47","v":510},{"s":"VLA 5 GHz","t":"13:48","v":510},{"s":"VLA 5 GHz","t":"13:49","v":510},{"s":"VLA 5 GHz","t":"13:50","v":510},{"s":"VLA 5 GHz","t":"13:51","v":510},{"s":"VLA 5 GHz","t":"13:52","v":510},{"s":"VLA 5 GHz","t":"13:53","v":511},{"s":"VLA 5 GHz","t":"13:54","v":511},{"s":"VLA 5 GHz","t":"13:55","v":512},{"s":"VLA 5 GHz","t":"13:56","v":513},{"s":"VLA 5 GHz","t":"13:57","v":514},{"s":"VLA 5 GHz","t":"13:58","v":516},{"s":"VLA 5 GHz","t":"13:59","v":518},{"s":"VLA 5 GHz","t":"14:00","v":520},{"s":"VLA 5 GHz","t":"14:01","v":523},{"s":"VLA 5 GHz","t":"14:02","v":526},{"s":"VLA 5 GHz","t":"14:03","v":529},{"s":"VLA 5 GHz","t":"14:04","v":532},{"s":"VLA 5 GHz","t":"14:05","v":535},{"s":"VLA 5 GHz","t":"14:06","v":538},{"s":"VLA 5 GHz","t":"14:07","v":541},{"s":"VLA 5 GHz","t":"14:08","v":544},{"s":"VLA 5 GHz","t":"14:09","v":547},{"s":"VLA 5 GHz","t":"14:10","v":551},{"s":"VLA 5 GHz","t":"14:11","v":555},{"s":"VLA 5 GHz","t":"14:12","v":559},{"s":"VLA 5 GHz","t":"14:13","v":563},{"s":"VLA 5 GHz","t":"14:14","v":567},{"s":"VLA 5 GHz","t":"14:15","v":571},{"s":"VLA 5 GHz","t":"14:16","v":576},{"s":"VLA 5 GHz","t":"14:17","v":581},{"s":"VLA 5 GHz","t":"14:18","v":586},{"s":"VLA 5 GHz","t":"14:19","v":591},{"s":"VLA 5 GHz","t":"14:20","v":597},{"s":"VLA 5 GHz","t":"14:21","v":603},{"s":"VLA 5 GHz","t":"14:22","v":609},{"s":"VLA 5 GHz","t":"14:23","v":615},{"s":"VLA 5 GHz","t":"14:24","v":620},{"s":"VLA 5 GHz","t":"14:25","v":625},{"s":"VLA 5 GHz","t":"14:26","v":630},{"s":"VLA 5 GHz","t":"14:27","v":634},{"s":"VLA 5 GHz","t":"14:28","v":637},{"s":"VLA 5 GHz","t":"14:29","v":640},{"s":"VLA 5 GHz","t":"14:30","v":642},{"s":"VLA 5 GHz","t":"14:31","v":644},{"s":"VLA 5 GHz","t":"14:32","v":645},{"s":"VLA 5 GHz","t":"14:33","v":645},{"s":"VLA 5 GHz","t":"14:34","v":645},{"s":"VLA 5 GHz","t":"14:35","v":644},{"s":"VLA 5 GHz","t":"14:36","v":643},{"s":"VLA 5 GHz","t":"14:37","v":641},{"s":"VLA 5 GHz","t":"14:38","v":640}
]},
"resolve":{"axis":{"x":"independent","y":"independent"}},
"layer":[
 {
  "mark":{"type":"point","shape":"circle","filled":true,"size":85,"stroke":"black","strokeWidth":0.6,"opacity":1,"clip":true},
  "encoding":{
   "x":{"field":"t","type":"temporal",
        "scale":{"domain":[{"year":1900,"month":1,"date":1,"hours":10,"minutes":30},{"year":1900,"month":1,"date":1,"hours":15,"minutes":0}],"nice":false},
        "axis":{"orient":"bottom","title":"Time on 2015/06/22 (HH:MM)","format":"%H:%M","ticks":false,
                "values":[{"year":1900,"month":1,"date":1,"hours":10,"minutes":30},{"year":1900,"month":1,"date":1,"hours":11,"minutes":0},{"year":1900,"month":1,"date":1,"hours":11,"minutes":30},{"year":1900,"month":1,"date":1,"hours":12,"minutes":0},{"year":1900,"month":1,"date":1,"hours":12,"minutes":30},{"year":1900,"month":1,"date":1,"hours":13,"minutes":0},{"year":1900,"month":1,"date":1,"hours":13,"minutes":30},{"year":1900,"month":1,"date":1,"hours":14,"minutes":0},{"year":1900,"month":1,"date":1,"hours":14,"minutes":30},{"year":1900,"month":1,"date":1,"hours":15,"minutes":0}],
                "labelAngle":-45,"labelAlign":"right","labelBaseline":"middle","labelOffset":-7,"labelPadding":12,"labelFontSize":25,"titleFontSize":28,"titleY":88,"titleBaseline":"alphabetic"}},
   "y":{"field":"v","type":"quantitative",
        "scale":{"domain":[10,2000],"nice":false,"zero":false},
        "axis":{"orient":"left","title":"Flux Density (mJy)","format":"d","ticks":false,"values":[250,500,750,1000,1250,1500,1750,2000],"labelPadding":3,"labelFontSize":25,"labelBaseline":"middle","titleFontSize":28,"titleX":-62,"titleY":301,"titleAngle":-90,"titleAlign":"center","titleBaseline":"alphabetic"}},
   "color":{"field":"s","type":"nominal",
        "scale":{"domain":["VLA 26 GHz","VLA 21 GHz","VLA 7 GHz","VLA 5 GHz"],"range":["#0000ff","#ff0000","#008000","#bfbf00"]},
        "legend":{"orient":"none","legendX":600,"legendY":10,"title":null,"labelFont":"Liberation Serif","labelFontSize":21,"labelColor":"black","symbolSize":250,"symbolType":"circle","symbolStrokeColor":"black","symbolStrokeWidth":1,"labelOffset":30,"rowPadding":10,"padding":10,"strokeColor":"#cccccc","fillColor":"white","cornerRadius":4}}
  }
 },
 {
  "mark":{"type":"point","opacity":0,"size":1},
  "encoding":{
   "x":{"field":"t","type":"temporal","axis":{"orient":"top","offset":-602,"title":null,"labels":false,"tickSize":7,
        "values":[{"year":1900,"month":1,"date":1,"hours":10,"minutes":30},{"year":1900,"month":1,"date":1,"hours":11,"minutes":0},{"year":1900,"month":1,"date":1,"hours":11,"minutes":30},{"year":1900,"month":1,"date":1,"hours":12,"minutes":0},{"year":1900,"month":1,"date":1,"hours":12,"minutes":30},{"year":1900,"month":1,"date":1,"hours":13,"minutes":0},{"year":1900,"month":1,"date":1,"hours":13,"minutes":30},{"year":1900,"month":1,"date":1,"hours":14,"minutes":0},{"year":1900,"month":1,"date":1,"hours":14,"minutes":30},{"year":1900,"month":1,"date":1,"hours":15,"minutes":0}]}},
   "y":{"field":"v","type":"quantitative","axis":{"orient":"right","offset":-799,"title":null,"labels":false,"tickSize":7,"values":[250,500,750,1000,1250,1500,1750,2000]}}
  }
 },
 {
  "mark":{"type":"point","opacity":0,"size":1},
  "encoding":{
   "x":{"field":"t","type":"temporal","axis":{"orient":"bottom","offset":-602,"title":null,"labels":false,"tickSize":7,
        "values":[{"year":1900,"month":1,"date":1,"hours":10,"minutes":30},{"year":1900,"month":1,"date":1,"hours":11,"minutes":0},{"year":1900,"month":1,"date":1,"hours":11,"minutes":30},{"year":1900,"month":1,"date":1,"hours":12,"minutes":0},{"year":1900,"month":1,"date":1,"hours":12,"minutes":30},{"year":1900,"month":1,"date":1,"hours":13,"minutes":0},{"year":1900,"month":1,"date":1,"hours":13,"minutes":30},{"year":1900,"month":1,"date":1,"hours":14,"minutes":0},{"year":1900,"month":1,"date":1,"hours":14,"minutes":30},{"year":1900,"month":1,"date":1,"hours":15,"minutes":0}]}},
   "y":{"field":"v","type":"quantitative","axis":{"orient":"left","offset":-799,"title":null,"labels":false,"tickSize":7,"values":[250,500,750,1000,1250,1500,1750,2000]}}
  }
 },
 {
  "mark":{"type":"point","opacity":0,"size":1},
  "encoding":{
   "x":{"field":"t","type":"temporal","axis":{"orient":"top","offset":-602,"title":null,"labels":false,"tickSize":4,
        "values":[{"year":1900,"month":1,"date":1,"hours":10,"minutes":40},{"year":1900,"month":1,"date":1,"hours":10,"minutes":50},{"year":1900,"month":1,"date":1,"hours":11,"minutes":10},{"year":1900,"month":1,"date":1,"hours":11,"minutes":20},{"year":1900,"month":1,"date":1,"hours":11,"minutes":40},{"year":1900,"month":1,"date":1,"hours":11,"minutes":50},{"year":1900,"month":1,"date":1,"hours":12,"minutes":10},{"year":1900,"month":1,"date":1,"hours":12,"minutes":20},{"year":1900,"month":1,"date":1,"hours":12,"minutes":40},{"year":1900,"month":1,"date":1,"hours":12,"minutes":50},{"year":1900,"month":1,"date":1,"hours":13,"minutes":10},{"year":1900,"month":1,"date":1,"hours":13,"minutes":20},{"year":1900,"month":1,"date":1,"hours":13,"minutes":40},{"year":1900,"month":1,"date":1,"hours":13,"minutes":50},{"year":1900,"month":1,"date":1,"hours":14,"minutes":10},{"year":1900,"month":1,"date":1,"hours":14,"minutes":20},{"year":1900,"month":1,"date":1,"hours":14,"minutes":40},{"year":1900,"month":1,"date":1,"hours":14,"minutes":50}]}},
   "y":{"field":"v","type":"quantitative","axis":{"orient":"right","offset":-799,"title":null,"labels":false,"tickSize":4,"values":[62.5,125,187.5,312.5,375,437.5,562.5,625,687.5,812.5,875,937.5,1062.5,1125,1187.5,1312.5,1375,1437.5,1562.5,1625,1687.5,1812.5,1875,1937.5]}}
  }
 },
 {
  "mark":{"type":"point","opacity":0,"size":1},
  "encoding":{
   "x":{"field":"t","type":"temporal","axis":{"orient":"bottom","offset":-602,"title":null,"labels":false,"tickSize":4,
        "values":[{"year":1900,"month":1,"date":1,"hours":10,"minutes":40},{"year":1900,"month":1,"date":1,"hours":10,"minutes":50},{"year":1900,"month":1,"date":1,"hours":11,"minutes":10},{"year":1900,"month":1,"date":1,"hours":11,"minutes":20},{"year":1900,"month":1,"date":1,"hours":11,"minutes":40},{"year":1900,"month":1,"date":1,"hours":11,"minutes":50},{"year":1900,"month":1,"date":1,"hours":12,"minutes":10},{"year":1900,"month":1,"date":1,"hours":12,"minutes":20},{"year":1900,"month":1,"date":1,"hours":12,"minutes":40},{"year":1900,"month":1,"date":1,"hours":12,"minutes":50},{"year":1900,"month":1,"date":1,"hours":13,"minutes":10},{"year":1900,"month":1,"date":1,"hours":13,"minutes":20},{"year":1900,"month":1,"date":1,"hours":13,"minutes":40},{"year":1900,"month":1,"date":1,"hours":13,"minutes":50},{"year":1900,"month":1,"date":1,"hours":14,"minutes":10},{"year":1900,"month":1,"date":1,"hours":14,"minutes":20},{"year":1900,"month":1,"date":1,"hours":14,"minutes":40},{"year":1900,"month":1,"date":1,"hours":14,"minutes":50}]}},
   "y":{"field":"v","type":"quantitative","axis":{"orient":"left","offset":-799,"title":null,"labels":false,"tickSize":4,"values":[62.5,125,187.5,312.5,375,437.5,562.5,625,687.5,812.5,875,937.5,1062.5,1125,1187.5,1312.5,1375,1437.5,1562.5,1625,1687.5,1812.5,1875,1937.5]}}
  }
 }
]
}
